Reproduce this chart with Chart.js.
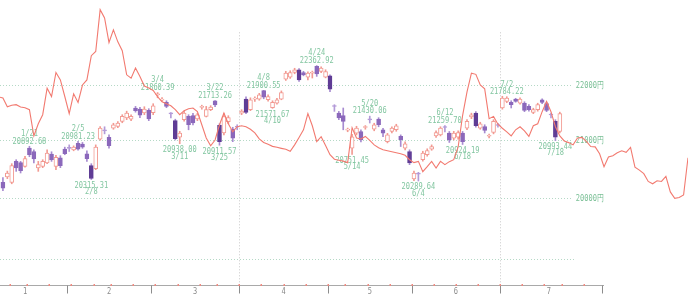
<!DOCTYPE html>
<html><head><meta charset="utf-8">
<script src="https://cdn.jsdelivr.net/npm/chart.js@4.4.1/dist/chart.umd.min.js"></script>
<style>html,body{margin:0;padding:0;background:#fff;overflow:hidden}#wrap{width:688px;height:298px;position:relative}</style>
</head><body><div id="wrap"><canvas id="c" width="688" height="298"></canvas></div>
<script>
// ---- calendar (trading days, index 0 = first trading day) ----
const firstTradingDay = '2019-01-04';
const holidays = ['2019-01-14','2019-02-11','2019-03-21','2019-04-29','2019-04-30','2019-05-01','2019-05-02','2019-05-03','2019-05-06','2019-07-15','2019-08-12'];
const monthLabels = ['1','2','3','4','5','6','7'];

// ---- candles (first visible candle = trading day index 4, 1/10) ----
const candleStart = 4;
const opens  = [20265,20358,20265,20628,20606,20542,20860,20801,20514,20542,20600,20756,20542,20692,20843,20865,20830,20946,20929,20761,20554,20502,21016,21180,21052,21215,21244,21335,21397,21375,21578,21560,21487,21534,21493,21820,21720,21679,21480,21348,21053,21366,21426,21442,21378,21590,21426,21547,21710,21266,21130,21330,21197,21245,21484,21741,21547,21740,21741,21897,21728,21583,21668,21741,22108,22146,22233,22285,22233,22146,22220,22347,22252,22146,22171,21615,21487,21438,21180,20860,21125,21155,21225,21380,21197,21378,21185,20974,21155,21185,21067,20860,20801,20324,20420,20657,20744,20843,21076,21094,21240,21125,21034,21053,21125,21215,21415,21487,21215,21244,21070,21136,21280,21578,21697,21679,21741,21668,21668,21607,21498,21547,21728,21656,21462,21335,21155];
const highs  = [20346,20460,20588,20657,20628,20715,20892.68,20830,20628,20657,20830,20796,20735,20727,20877,20917,20900,20981.23,20960,20813,20588,20917,21244,21239,21094,21302,21330,21456,21520,21456,21607,21592,21601,21565,21656,21860.39,21770,21710,21493,21375,21158,21520,21456,21480,21484,21629,21607,21620,21713.26,21293,21475,21438,21230,21275,21547,21783,21764,21780,21846,21900.55,21819,21710,21755,21891,22256,22266,22313,22309,22256,22247,22260,22362.92,22342,22285,22190,21638,21516,21578,21215,21103,21248,21185,21260,21430.06,21302,21402,21212,21121,21239,21284,21094,20969,20830,20459,20438,20805,20848,20917,21167,21239,21259.70,21155,21158,21167,21155,21366,21484,21511,21320,21275,21110,21366,21302,21792,21784.22,21710,21755,21764,21692,21638,21574,21665,21746,21683,21487,21366,21502];
const lows   = [20126,20330,20242,20455,20427,20528,20709,20600,20455,20519,20588,20628,20484,20519,20744,20801,20813,20822,20856,20628,20315.31,20484,21000,21112,20860,21194,21221,21311,21366,21348,21502,21402,21456,21348,21456,21764,21700,21583,21397,21004,20938.00,21339,21185,21270,21348,21556,21415,21529,21601,20911.57,21094,21293,20974,21185,21456,21475,21529,21700,21719,21746,21701,21571.67,21647,21728,22085,22123,22209,22066,22171,22095,22130,22161,22228,22133,21879,21516,21366,21185,21150,20751.45,21094,20969,21195,21306,21167,21239,21062,20952,21130,21158,20888,20830,20571,20294,20289.64,20632,20718,20822,21049,21076,21148,20960,21004,21016,20924.19,21185,21384,21230,21194,21128,21040,21112,21230,21556,21674,21578,21683,21647,21511,21520,21475,21520,21656,21511,21397,20993.44,21130];
const closes = [20168,20427,20554,20514,20467,20675,20744,20670,20571,20628,20773,20657,20697,20554,20761,20855,20877,20843,20877,20675,20333,20877,21215,21165,20905,21275,21306,21426,21487,21426,21529,21447,21560,21378,21619,21835,21735,21607,21470,21025,21125,21487,21275,21306,21456,21600,21547,21596,21632,20974,21420,21402,21034,21230,21520,21498,21728,21750,21819,21777,21788,21679,21728,21860,22222,22233,22285,22095,22190,22222,22235,22209,22317,22252,21922,21605,21397,21335,21190,21058,21215,21004,21235,21360,21275,21275,21125,21094,21215,21257,21007,20934,20600,20427,20408,20773,20818,20888,21136,21215,21225,21004,21125,21136,20974,21335,21456,21257,21293,21172,21082,21335,21262,21759,21759,21638,21697,21741,21534,21547,21547,21638,21679,21534,21450,21052,21475];

// ---- red comparison line (starts at trading day index 3) ----
const compareStart = 3;
const compare = [21783,21759,21601,21629,21638,21596,21583,21547,21076,21293,21456,21940,21788,22233,22095,21788,21475,21837,21679,22000,22095,22550,22632,23444,23279,22803,23046,22816,22645,22190,22127,22317,22158,21982,21946,21900,21783,21692,21656,21619,21547,21456,21529,21565,21578,21511,21275,21040,20900,21003,21275,21487,21293,21148,21239,21257,21239,21194,21130,21022,20960,20926,20891,20874,20856,20839,20805,20917,21049,21185,21475,21257,20974,21063,20908,20744,20666,20649,20632,20606,21221,21040,21022,21067,20995,20917,20865,20830,20813,20796,20779,20761,20735,20657,20606,20628,20450,20536,20628,20514,20628,20571,20623,20657,20882,21438,21873,22222,22199,22000,21928,21384,21426,21284,21212,21148,21076,21185,21239,21166,21067,21257,21293,21511,21697,21511,21239,21076,20986,20957,20917,21040,21049,20978,20888,20882,20761,20536,20704,20727,20779,20813,20787,20874,20528,20476,20415,20282,20242,20294,20282,20369,20104,19995,20009,20052,20692];

// ---- high / low annotations ----
const markDates  = ['1/21','2/5','2/8','3/4','3/11','3/22','3/25','4/8','4/10','4/24','5/14','5/20','6/4','6/12','6/18','7/2','7/18'];
const markValues = ['20892.68','20981.23','20315.31','21860.39','20938.00','21713.26','20911.57','21900.55','21571.67','22362.92','20751.45','21430.06','20289.64','21259.70','20924.19','21784.22','20993.44'];
const markKinds  = ['H','H','L','H','L','H','L','H','L','H','L','H','L','H','L','H','L'];

// ---- price axis ----
const priceTicks  = [19000,20000,21000,22000];
const priceLabels = ['','20000円','21000円','22000円'];
const quarterLineTop = 23000;

// ---- build calendar ----
function buildCalendar(n){
  const out=[]; const d=new Date(firstTradingDay+'T00:00:00Z');
  while(out.length<n){
    const dow=d.getUTCDay(); const iso=d.toISOString().slice(0,10);
    if(dow!==0&&dow!==6&&!holidays.includes(iso)) out.push({m:d.getUTCMonth()+1,day:d.getUTCDate(),dow:dow,label:(d.getUTCMonth()+1)+'/'+d.getUTCDate()});
    d.setUTCDate(d.getUTCDate()+1);
  }
  return out;
}
const cal = buildCalendar(compareStart+compare.length+2);

const UP_BORDER='#f29a92', DOWN='#8b68bb', DOWN_DARK='#5f3c95', CROSS='#b39ad8', RED_LINE='#f27a70', WICK_DOWN='#a78bd0';

const bodyData=[], wickData=[], bodyFill=[], bodyBorder=[], wickColor=[];
for(let k=0;k<opens.length;k++){
  const i=candleStart+k, o=opens[k], c=closes[k], h=highs[k], l=lows[k];
  const up=c>=o, small=Math.abs(c-o)<25;
  bodyData.push({x:i,y:[Math.min(o,c),Math.max(o,c)]});
  wickData.push({x:i,y:[l,h]});
  let col = up ? UP_BORDER : (small ? CROSS : (o-c>180 ? DOWN_DARK : DOWN));
  bodyFill.push(up ? '#ffffff' : col);
  bodyBorder.push(col);
  wickColor.push(up ? UP_BORDER : (small ? CROSS : WICK_DOWN));
}
const lineData = compare.map((v,k)=>({x:compareStart+k,y:v}));

function narrowText(ctx,txt,x,y,color,align){
  ctx.save(); ctx.fillStyle=color; ctx.font='9px "DejaVu Sans Mono"'; ctx.textBaseline='middle';
  ctx.textAlign=align||'center'; ctx.translate(x,y); ctx.scale(0.78,1); ctx.fillText(txt,0,0); ctx.restore();
}
function narrowWidth(ctx,txt){ ctx.save(); ctx.font='9px "DejaVu Sans Mono"'; const w=ctx.measureText(txt).width*0.78; ctx.restore(); return w; }

const framePlugin = {
  id:'frame',
  beforeDatasetsDraw(chart){
    const {ctx, chartArea, scales:{x,y}} = chart;
    const bottom = Math.round(chartArea.bottom)+0.5;
    const bounds=[], centers={}, weekEnds=[];
    for(let i=1;i<cal.length;i++){
      if(cal[i].m!==cal[i-1].m) bounds.push({v:i-0.5,m:cal[i].m});
      if(cal[i].dow<=cal[i-1].dow) weekEnds.push(i-1);
    }
    cal.forEach((d,i)=>{(centers[d.m]=centers[d.m]||[]).push(i);});
    const lastMonth = +monthLabels[monthLabels.length-1];
    const endB = bounds.find(b=>b.m===lastMonth+1);
    const axisEnd = Math.round(x.getPixelForValue(endB.v))+7;
    ctx.save();
    priceTicks.forEach((p,k)=>{
      const py=Math.round(y.getPixelForValue(p))+0.5;
      const lab=priceLabels[k];
      const w=lab?narrowWidth(ctx,lab):0;
      ctx.strokeStyle='#b5d9c6'; ctx.lineWidth=1; ctx.setLineDash([1,2]);
      ctx.beginPath(); ctx.moveTo(0,py); ctx.lineTo(axisEnd-w-(lab?4:30),py); ctx.stroke();
      if(lab) narrowText(ctx,lab,axisEnd,py,'#79bf95','right');
    });
    const topY = y.getPixelForValue(quarterLineTop);
    bounds.filter(b=>b.m===4||b.m===7).forEach(b=>{
      const px=Math.round(x.getPixelForValue(b.v))+0.5;
      ctx.strokeStyle='#c9c9c9'; ctx.setLineDash([1,2]);
      ctx.beginPath(); ctx.moveTo(px,topY); ctx.lineTo(px,bottom); ctx.stroke();
    });
    ctx.setLineDash([]);
    ctx.strokeStyle='#a9a9a9'; ctx.lineWidth=1;
    ctx.beginPath(); ctx.moveTo(0,bottom); ctx.lineTo(axisEnd,bottom); ctx.stroke();
    ctx.strokeStyle='#8c8c8c';
    bounds.filter(b=>b.m<=lastMonth+1 && b.m>=2).forEach(b=>{
      const px=(b.m===lastMonth+1)?axisEnd-1.5:Math.round(x.getPixelForValue(b.v))+0.5;
      ctx.beginPath(); ctx.moveTo(px,bottom); ctx.lineTo(px,bottom+8); ctx.stroke();
    });
    ctx.fillStyle='#f08a80';
    weekEnds.forEach(i=>{
      const px=x.getPixelForValue(i+0.5);
      if(px>0 && px<axisEnd-2) ctx.fillRect(Math.round(px)-0.5,bottom-1.5,1.5,2);
    });
    monthLabels.forEach(m=>{
      const arr=centers[+m]; if(!arr) return;
      const c=(arr[0]+arr[arr.length-1])/2;
      narrowText(ctx,m,x.getPixelForValue(c),bottom+6,'#8a8a8a','center');
    });
    markDates.forEach((dt,k)=>{
      const idx=cal.findIndex(d=>d.label===dt);
      const px=x.getPixelForValue(idx);
      const py=y.getPixelForValue(parseFloat(markValues[k]));
      const col='#82c6a0';
      if(markKinds[k]==='H'){
        narrowText(ctx,markValues[k],px,py-5,col);
        narrowText(ctx,dt,px,py-12.5,col);
      } else {
        narrowText(ctx,markValues[k],px,py+6,col);
        narrowText(ctx,dt,px,py+12.5,col);
      }
    });
    ctx.restore();
  }
};

new Chart(document.getElementById('c').getContext('2d'),{
  data:{datasets:[
    {type:'line',data:lineData,borderColor:RED_LINE,borderWidth:1.1,pointRadius:0,tension:0,order:0,clip:false},
    {type:'bar',data:bodyData,backgroundColor:bodyFill,borderColor:bodyBorder,borderWidth:1,borderSkipped:false,barThickness:4,minBarLength:1,grouped:false,order:1},
    {type:'bar',data:wickData,backgroundColor:wickColor,borderWidth:0,barThickness:1,minBarLength:1,grouped:false,order:2}
  ]},
  options:{
    responsive:false,animation:false,events:[],
    layout:{padding:{left:0,right:0,top:0,bottom:13}},
    plugins:{legend:{display:false},tooltip:{enabled:false}},
    scales:{
      x:{type:'linear',min:3.34,max:159.0,display:false,offset:false},
      y:{type:'logarithmic',min:18586,max:23635,display:false}
    }
  },
  plugins:[framePlugin]
});
</script></body></html>
